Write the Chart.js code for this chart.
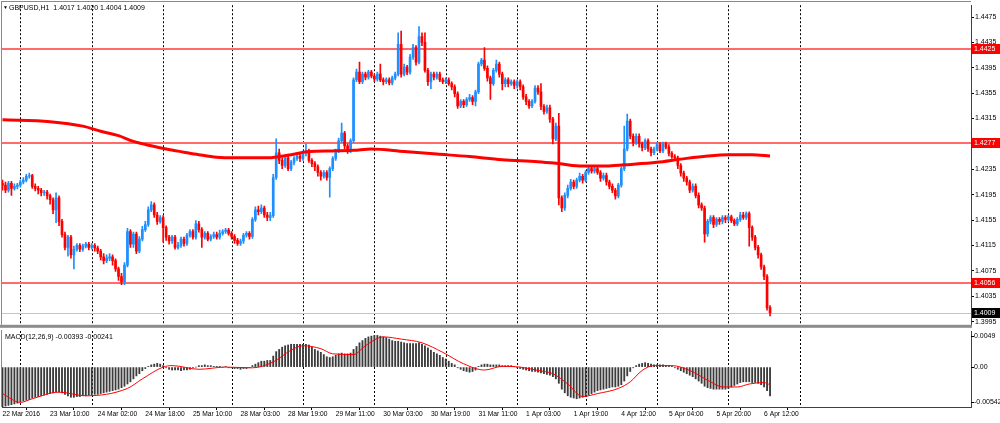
<!DOCTYPE html>
<html>
<head>
<meta charset="utf-8">
<script src="https://cdn.jsdelivr.net/npm/chart.js@4.4.0/dist/chart.umd.min.js"></script>
<style>
  html, body { margin: 0; padding: 0; background: #fff; }
  #wrap { position: relative; width: 1000px; height: 423px; overflow: hidden; }
  #price { position: absolute; left: 0; top: 0; }
  #macd { position: absolute; left: 0; top: 330px; }
</style>
</head>
<body>
<div id="wrap">
  <canvas id="price" width="1000" height="330"></canvas>
  <canvas id="macd" width="1000" height="93"></canvas>
</div>
<script>
// GBPUSD H1, one entry per bar
const opens = [
  1.4213,1.4210,1.4202,1.4213,1.4205,1.4208,1.4210,1.4215,1.4218,1.4224,
  1.4225,1.4208,1.4205,1.4202,1.4198,1.4199,1.4193,1.4187,1.4171,1.4190,
  1.4153,1.4132,1.4112,1.4128,1.4100,1.4109,1.4115,1.4109,1.4114,1.4117,
  1.4112,1.4115,1.4111,1.4106,1.4097,1.4091,1.4095,1.4097,1.4091,1.4078,
  1.4066,1.4058,1.4084,1.4137,1.4117,1.4133,1.4106,1.4125,1.4140,1.4148,
  1.4171,1.4179,1.4163,1.4153,1.4159,1.4143,1.4128,1.4122,1.4128,1.4112,
  1.4115,1.4125,1.4118,1.4131,1.4137,1.4128,1.4149,1.4140,1.4128,1.4134,
  1.4125,1.4129,1.4132,1.4128,1.4134,1.4137,1.4139,1.4134,1.4129,1.4123,
  1.4118,1.4122,1.4131,1.4134,1.4129,1.4156,1.4171,1.4168,1.4174,1.4163,
  1.4159,1.4162,1.4222,1.4261,1.4249,1.4241,1.4253,1.4236,1.4246,1.4252,
  1.4256,1.4252,1.4260,1.4264,1.4249,1.4244,1.4239,1.4230,1.4224,1.4230,
  1.4222,1.4236,1.4252,1.4264,1.4280,1.4292,1.4272,1.4264,1.4280,1.4376,
  1.4388,1.4373,1.4385,1.4380,1.4388,1.4382,1.4377,1.4385,1.4376,1.4373,
  1.4376,1.4371,1.4379,1.4385,1.4432,1.4385,1.4396,1.4388,1.4412,1.4427,
  1.4404,1.4444,1.4435,1.4391,1.4373,1.4385,1.4380,1.4385,1.4376,1.4373,
  1.4376,1.4370,1.4365,1.4354,1.4335,1.4342,1.4337,1.4345,1.4348,1.4342,
  1.4357,1.4401,1.4407,1.4394,1.4379,1.4370,1.4391,1.4401,1.4385,1.4370,
  1.4376,1.4370,1.4373,1.4367,1.4373,1.4365,1.4349,1.4342,1.4335,1.4342,
  1.4363,1.4357,1.4334,1.4326,1.4332,1.4314,1.4283,1.4303,1.4190,1.4174,
  1.4194,1.4205,1.4215,1.4208,1.4218,1.4224,1.4218,1.4230,1.4236,1.4232,
  1.4236,1.4230,1.4221,1.4225,1.4215,1.4208,1.4202,1.4193,1.4210,1.4236,
  1.4267,1.4311,1.4287,1.4277,1.4287,1.4275,1.4269,1.4280,1.4267,1.4261,
  1.4267,1.4274,1.4264,1.4275,1.4270,1.4260,1.4255,1.4253,1.4241,1.4229,
  1.4221,1.4215,1.4202,1.4208,1.4194,1.4179,1.4174,1.4133,1.4153,1.4159,
  1.4148,1.4156,1.4153,1.4159,1.4156,1.4160,1.4154,1.4149,1.4156,1.4163,
  1.4159,1.4165,1.4143,1.4128,1.4112,1.4100,1.4081,1.4066,1.4017
];
const highs = [
  1.4218,1.4215,1.4216,1.4216,1.4212,1.4213,1.4218,1.4222,1.4227,1.4229,
  1.4227,1.4212,1.4208,1.4205,1.4202,1.4202,1.4196,1.4190,1.4198,1.4193,
  1.4156,1.4136,1.4131,1.4131,1.4114,1.4118,1.4118,1.4117,1.4120,1.4120,
  1.4118,1.4118,1.4114,1.4109,1.4102,1.4100,1.4102,1.4100,1.4094,1.4081,
  1.4071,1.4088,1.4142,1.4140,1.4136,1.4136,1.4129,1.4145,1.4153,1.4176,
  1.4184,1.4182,1.4167,1.4162,1.4162,1.4146,1.4131,1.4131,1.4131,1.4120,
  1.4128,1.4128,1.4134,1.4140,1.4140,1.4154,1.4153,1.4143,1.4137,1.4137,
  1.4132,1.4136,1.4136,1.4139,1.4140,1.4142,1.4142,1.4137,1.4132,1.4126,
  1.4125,1.4134,1.4137,1.4137,1.4159,1.4176,1.4177,1.4179,1.4177,1.4167,
  1.4167,1.4227,1.4283,1.4267,1.4253,1.4256,1.4256,1.4249,1.4255,1.4261,
  1.4260,1.4264,1.4275,1.4267,1.4252,1.4247,1.4242,1.4233,1.4233,1.4233,
  1.4239,1.4255,1.4267,1.4284,1.4308,1.4295,1.4275,1.4283,1.4379,1.4393,
  1.4404,1.4388,1.4388,1.4391,1.4391,1.4385,1.4388,1.4401,1.4379,1.4379,
  1.4379,1.4382,1.4388,1.4450,1.4453,1.4401,1.4399,1.4416,1.4432,1.4430,
  1.4460,1.4450,1.4450,1.4394,1.4388,1.4388,1.4388,1.4388,1.4379,1.4379,
  1.4379,1.4373,1.4368,1.4357,1.4345,1.4345,1.4348,1.4353,1.4351,1.4360,
  1.4404,1.4410,1.4427,1.4398,1.4382,1.4394,1.4407,1.4404,1.4388,1.4379,
  1.4379,1.4376,1.4376,1.4376,1.4376,1.4368,1.4353,1.4345,1.4345,1.4367,
  1.4367,1.4370,1.4337,1.4336,1.4336,1.4317,1.4308,1.4323,1.4193,1.4198,
  1.4210,1.4219,1.4218,1.4221,1.4229,1.4227,1.4233,1.4241,1.4239,1.4239,
  1.4239,1.4233,1.4229,1.4229,1.4218,1.4212,1.4205,1.4213,1.4239,1.4303,
  1.4322,1.4314,1.4291,1.4291,1.4291,1.4278,1.4283,1.4283,1.4270,1.4270,
  1.4277,1.4277,1.4278,1.4278,1.4274,1.4263,1.4258,1.4256,1.4244,1.4232,
  1.4224,1.4218,1.4212,1.4212,1.4198,1.4182,1.4177,1.4156,1.4162,1.4162,
  1.4159,1.4159,1.4162,1.4162,1.4163,1.4163,1.4157,1.4159,1.4167,1.4167,
  1.4168,1.4168,1.4146,1.4131,1.4115,1.4103,1.4084,1.4069,1.4020
];
const lows = [
  1.4202,1.4198,1.4199,1.4194,1.4202,1.4204,1.4207,1.4212,1.4215,1.4221,
  1.4205,1.4201,1.4196,1.4193,1.4194,1.4188,1.4180,1.4165,1.4151,1.4146,
  1.4128,1.4108,1.4098,1.4095,1.4078,1.4106,1.4105,1.4106,1.4111,1.4108,
  1.4109,1.4106,1.4102,1.4092,1.4086,1.4088,1.4091,1.4084,1.4074,1.4060,
  1.4053,1.4053,1.4081,1.4112,1.4112,1.4102,1.4103,1.4122,1.4137,1.4145,
  1.4168,1.4159,1.4148,1.4150,1.4120,1.4123,1.4117,1.4118,1.4109,1.4109,
  1.4112,1.4114,1.4115,1.4128,1.4125,1.4125,1.4136,1.4112,1.4125,1.4122,
  1.4122,1.4126,1.4125,1.4125,1.4131,1.4134,1.4131,1.4125,1.4118,1.4115,
  1.4115,1.4118,1.4128,1.4125,1.4126,1.4153,1.4163,1.4165,1.4159,1.4154,
  1.4154,1.4159,1.4219,1.4244,1.4236,1.4238,1.4233,1.4233,1.4242,1.4249,
  1.4247,1.4249,1.4256,1.4246,1.4239,1.4233,1.4224,1.4218,1.4221,1.4218,
  1.4191,1.4233,1.4249,1.4261,1.4277,1.4267,1.4260,1.4261,1.4277,1.4373,
  1.4370,1.4370,1.4376,1.4377,1.4379,1.4373,1.4374,1.4373,1.4368,1.4370,
  1.4368,1.4368,1.4376,1.4382,1.4380,1.4382,1.4384,1.4385,1.4408,1.4399,
  1.4401,1.4430,1.4388,1.4367,1.4362,1.4376,1.4377,1.4373,1.4370,1.4370,
  1.4367,1.4360,1.4349,1.4331,1.4332,1.4332,1.4334,1.4342,1.4337,1.4335,
  1.4354,1.4398,1.4391,1.4374,1.4345,1.4367,1.4388,1.4380,1.4360,1.4365,
  1.4365,1.4367,1.4362,1.4363,1.4360,1.4345,1.4337,1.4331,1.4332,1.4339,
  1.4353,1.4329,1.4322,1.4323,1.4309,1.4275,1.4280,1.4179,1.4168,1.4170,
  1.4190,1.4202,1.4204,1.4205,1.4215,1.4213,1.4215,1.4227,1.4229,1.4229,
  1.4227,1.4216,1.4218,1.4210,1.4204,1.4198,1.4188,1.4190,1.4207,1.4233,
  1.4264,1.4283,1.4272,1.4274,1.4270,1.4264,1.4266,1.4263,1.4256,1.4258,
  1.4264,1.4261,1.4261,1.4267,1.4256,1.4252,1.4249,1.4236,1.4224,1.4216,
  1.4210,1.4198,1.4199,1.4190,1.4174,1.4170,1.4120,1.4129,1.4149,1.4143,
  1.4145,1.4148,1.4149,1.4151,1.4153,1.4151,1.4146,1.4146,1.4153,1.4156,
  1.4156,1.4114,1.4123,1.4108,1.4095,1.4077,1.4061,1.4013,1.4004
];
const closes = [
  1.4210,1.4202,1.4213,1.4205,1.4208,1.4210,1.4215,1.4218,1.4224,1.4225,
  1.4208,1.4205,1.4202,1.4198,1.4199,1.4193,1.4187,1.4171,1.4190,1.4153,
  1.4132,1.4112,1.4128,1.4100,1.4109,1.4115,1.4109,1.4114,1.4117,1.4112,
  1.4115,1.4111,1.4106,1.4097,1.4091,1.4095,1.4097,1.4091,1.4078,1.4066,
  1.4058,1.4084,1.4137,1.4117,1.4133,1.4106,1.4125,1.4140,1.4148,1.4171,
  1.4179,1.4163,1.4153,1.4159,1.4143,1.4128,1.4122,1.4128,1.4112,1.4115,
  1.4125,1.4118,1.4131,1.4137,1.4128,1.4149,1.4140,1.4128,1.4134,1.4125,
  1.4129,1.4132,1.4128,1.4134,1.4137,1.4139,1.4134,1.4129,1.4123,1.4118,
  1.4122,1.4131,1.4134,1.4129,1.4156,1.4171,1.4168,1.4174,1.4163,1.4159,
  1.4162,1.4222,1.4261,1.4249,1.4241,1.4253,1.4236,1.4246,1.4252,1.4256,
  1.4252,1.4260,1.4264,1.4249,1.4244,1.4239,1.4230,1.4224,1.4230,1.4222,
  1.4236,1.4252,1.4264,1.4280,1.4292,1.4272,1.4264,1.4280,1.4376,1.4388,
  1.4373,1.4385,1.4380,1.4388,1.4382,1.4377,1.4385,1.4376,1.4373,1.4376,
  1.4371,1.4379,1.4385,1.4432,1.4385,1.4396,1.4388,1.4412,1.4427,1.4404,
  1.4444,1.4435,1.4391,1.4373,1.4385,1.4380,1.4385,1.4376,1.4373,1.4376,
  1.4370,1.4365,1.4354,1.4335,1.4342,1.4337,1.4345,1.4348,1.4342,1.4357,
  1.4401,1.4407,1.4394,1.4379,1.4370,1.4391,1.4401,1.4385,1.4370,1.4376,
  1.4370,1.4373,1.4367,1.4373,1.4365,1.4349,1.4342,1.4335,1.4342,1.4363,
  1.4357,1.4334,1.4326,1.4332,1.4314,1.4283,1.4303,1.4190,1.4174,1.4194,
  1.4205,1.4215,1.4208,1.4218,1.4224,1.4218,1.4230,1.4236,1.4232,1.4236,
  1.4230,1.4221,1.4225,1.4215,1.4208,1.4202,1.4193,1.4210,1.4236,1.4267,
  1.4311,1.4287,1.4277,1.4287,1.4275,1.4269,1.4280,1.4267,1.4261,1.4267,
  1.4274,1.4264,1.4275,1.4270,1.4260,1.4255,1.4253,1.4241,1.4229,1.4221,
  1.4215,1.4202,1.4208,1.4194,1.4179,1.4174,1.4133,1.4153,1.4159,1.4148,
  1.4156,1.4153,1.4159,1.4156,1.4160,1.4154,1.4149,1.4156,1.4163,1.4159,
  1.4165,1.4143,1.4128,1.4112,1.4100,1.4081,1.4066,1.4017,1.4009
];

// moving average, read at a few bars
const maBars = [0,16,27,33,39,44,50,55,61,66,72,78,89,93,97,103,111,118,124,135,146,157,168,180,187,195,203,209,220,228,237,244,252,258];
const maValues = [1.4313,1.4310,1.4303,1.4295,1.4288,1.4279,1.4272,1.4267,1.4262,1.4258,1.4254,1.4253,1.4253,1.4255,1.4258,1.4263,1.4264,1.4265,1.4267,1.4263,1.4259,1.4255,1.4250,1.4247,1.4244,1.4240,1.4240,1.4242,1.4246,1.4251,1.4256,1.4258,1.4258,1.4256];

// MACD(12,26,9) main histogram, one per bar
const macdHist = [
  -0.0054,-0.0053,-0.0052,-0.0051,-0.0050,-0.0049,-0.0047,-0.0046,-0.0045,-0.0044,
  -0.0042,-0.0041,-0.0040,-0.0039,-0.0038,-0.0037,-0.0036,-0.0035,-0.0034,-0.0034,
  -0.0035,-0.0037,-0.0039,-0.0041,-0.0041,-0.0040,-0.0040,-0.0039,-0.0039,-0.0038,
  -0.0038,-0.0037,-0.0037,-0.0036,-0.0035,-0.0034,-0.0033,-0.0032,-0.0031,-0.0030,
  -0.0028,-0.0026,-0.0023,-0.0020,-0.0016,-0.0012,-0.0009,-0.0005,-0.0002,0.0001,
  0.0003,0.0004,0.0005,0.0004,0.0002,-0.0001,-0.0003,-0.0004,-0.0004,-0.0004,
  -0.0005,-0.0004,-0.0004,-0.0003,-0.0001,0.0000,0.0002,0.0002,0.0003,0.0002,
  0.0002,0.0001,0.0001,0.0001,0.0000,0.0001,-0.0001,-0.0001,-0.0002,-0.0002,
  -0.0003,-0.0002,-0.0002,-0.0001,0.0002,0.0004,0.0006,0.0008,0.0008,0.0009,
  0.0009,0.0015,0.0021,0.0024,0.0027,0.0029,0.0030,0.0031,0.0031,0.0031,
  0.0031,0.0031,0.0031,0.0030,0.0027,0.0024,0.0022,0.0020,0.0017,0.0014,
  0.0013,0.0014,0.0016,0.0018,0.0019,0.0018,0.0018,0.0019,0.0024,0.0028,
  0.0033,0.0036,0.0039,0.0041,0.0042,0.0043,0.0043,0.0042,0.0041,0.0040,
  0.0038,0.0036,0.0035,0.0035,0.0034,0.0033,0.0032,0.0032,0.0032,0.0032,
  0.0033,0.0031,0.0029,0.0026,0.0023,0.0020,0.0018,0.0016,0.0013,0.0011,
  0.0008,0.0005,0.0003,-0.0001,-0.0003,-0.0005,-0.0006,-0.0007,-0.0006,-0.0004,
  0.0001,0.0003,0.0004,0.0004,0.0003,0.0003,0.0003,0.0003,0.0002,0.0002,
  0.0002,0.0002,0.0001,-0.0001,-0.0002,-0.0003,-0.0004,-0.0005,-0.0006,-0.0006,
  -0.0007,-0.0008,-0.0009,-0.0010,-0.0011,-0.0013,-0.0016,-0.0022,-0.0030,-0.0035,
  -0.0039,-0.0041,-0.0042,-0.0043,-0.0042,-0.0041,-0.0040,-0.0038,-0.0036,-0.0034,
  -0.0032,-0.0031,-0.0030,-0.0029,-0.0028,-0.0027,-0.0027,-0.0026,-0.0024,-0.0019,
  -0.0012,-0.0006,-0.0001,0.0002,0.0004,0.0005,0.0006,0.0005,0.0004,0.0003,
  0.0003,0.0003,0.0003,0.0002,0.0002,0.0001,-0.0001,-0.0003,-0.0005,-0.0007,
  -0.0009,-0.0011,-0.0013,-0.0016,-0.0019,-0.0022,-0.0026,-0.0028,-0.0029,-0.0030,
  -0.0030,-0.0030,-0.0030,-0.0030,-0.0029,-0.0027,-0.0025,-0.0023,-0.0021,-0.0020,
  -0.0020,-0.0020,-0.0021,-0.0021,-0.0022,-0.0024,-0.0027,-0.0032,-0.00393
];
// signal line, read at a few bars
const signalBars = [0,6,10,19,28,42,47,54,57,66,75,84,91,97,101,107,111,118,122,128,134,141,148,155,162,168,174,180,185,190,195,200,207,211,215,219,225,231,238,242,247,251,256,258];
const signalValues = [-0.0036,-0.0048,-0.0043,-0.0034,-0.0039,-0.0029,-0.0016,0.0000,0.0002,-0.0003,0.0000,-0.0001,0.0007,0.0023,0.0029,0.0025,0.0018,0.0017,0.0029,0.0041,0.0038,0.0033,0.0020,0.00045,-0.0004,0.0001,0.0000,-0.00046,-0.0009,-0.0023,-0.0040,-0.0036,-0.0029,-0.0020,-0.00046,0.0002,0.0002,-0.00046,-0.0020,-0.0027,-0.0027,-0.0023,-0.0021,-0.00241];

const priceTicks = [1.3995,1.4035,1.4075,1.4115,1.4155,1.4195,1.4235,1.4275,1.4315,1.4355,1.4395,1.4435,1.4475];
const macdTicks = [0.0049, 0, -0.00542];
const macdTickText = ['0.0049', '0.00', '-0.00542'];
const timeLabels = ['22 Mar 2016','23 Mar 10:00','24 Mar 02:00','24 Mar 18:00','25 Mar 10:00','28 Mar 03:00','28 Mar 19:00','29 Mar 11:00','30 Mar 03:00','30 Mar 19:00','31 Mar 11:00','1 Apr 03:00','1 Apr 19:00','4 Apr 12:00','5 Apr 04:00','5 Apr 20:00','6 Apr 12:00'];
const labelBars = [0,16,32,48,64,80,96,112,128,144,160,176,192,208,224,240,256];
const daySeparators = [6,30,54,77,101,125,149,173,196,220,244,268];
const levels = [1.4425, 1.4277, 1.4056];
const bid = 1.4009;

const BULL = '#1e8fff', BEAR = '#ff0000';
const FONT = "'Liberation Sans', Arial, sans-serif";
const X_MIN = -0.17, X_MAX = 325.55;
const last = closes.length - 1;

const bodies = closes.map((c, i) => ({ x: i, y: [opens[i], c] }));
const wicks = closes.map((c, i) => ({ x: i, y: [lows[i], highs[i]] }));
const maPoints = maBars.map((b, k) => ({ x: b, y: maValues[k] }));
const histPoints = macdHist.map((v, i) => ({ x: i, y: v }));
const signalPoints = signalBars.map((b, k) => ({ x: b, y: signalValues[k] }));
const candleColor = ctx => closes[ctx.dataIndex] >= opens[ctx.dataIndex] ? BULL : BEAR;

function dayLines(chart) {
  const { ctx, chartArea: a, scales: { x } } = chart;
  ctx.save();
  ctx.strokeStyle = '#000';
  ctx.lineWidth = 1;
  ctx.setLineDash([2, 2]);
  daySeparators.forEach(d => {
    const px = Math.round(x.getPixelForValue(d)) + 0.5;
    ctx.beginPath(); ctx.moveTo(px, a.top); ctx.lineTo(px, a.bottom); ctx.stroke();
  });
  ctx.restore();
}

const pricePanel = {
  id: 'pricePanel',
  beforeDatasetsDraw(chart) {
    dayLines(chart);
    const { ctx, chartArea: a, scales: { y } } = chart;
    ctx.save();
    ctx.fillStyle = '#c4c4c4';
    ctx.fillRect(a.left, Math.round(y.getPixelForValue(bid)), a.right - a.left, 1);
    ctx.fillStyle = '#ff6a6a';
    levels.forEach(v => {
      const py = Math.round(y.getPixelForValue(v) - 1);
      ctx.fillRect(a.left, py, a.right - a.left, 2);
    });
    ctx.restore();
  },
  afterDraw(chart) {
    const { ctx, chartArea: a, scales: { y } } = chart;
    ctx.save();
    // frame and panel separator
    ctx.fillStyle = '#8a8a8a';
    ctx.fillRect(1, 1, a.right - 1, 1);
    ctx.fillRect(1, 1, 1, a.bottom - 1);
    ctx.fillStyle = '#8c8c8c';
    ctx.fillRect(0, a.bottom, a.right + 1, 3);
    // level tags on the price axis
    ctx.font = '7px ' + FONT;
    ctx.textBaseline = 'middle';
    const tag = (v, bg) => {
      const py = Math.round(y.getPixelForValue(v));
      ctx.fillStyle = bg;
      ctx.fillRect(a.right + 1, py - 5, 28, 10);
      ctx.fillStyle = '#fff';
      ctx.fillText(v.toFixed(4), a.right + 3, py + 0.5);
    };
    levels.forEach(v => tag(v, '#ff0000'));
    tag(bid, '#000');
    // symbol header
    ctx.fillStyle = '#000';
    ctx.font = '5px ' + FONT;
    ctx.fillText('\u25BC', 3, 8);
    ctx.font = '7px ' + FONT;
    const head = 'GBPUSD,H1  ' + [opens[last], highs[last], lows[last], closes[last]].map(v => v.toFixed(4)).join(' ');
    ctx.fillText(head, 9, 8);
    ctx.restore();
  }
};

const macdPanel = {
  id: 'macdPanel',
  beforeDatasetsDraw(chart) { dayLines(chart); },
  afterDraw(chart) {
    const { ctx, chartArea: a, scales: { y } } = chart;
    ctx.save();
    ctx.fillStyle = '#8a8a8a';
    ctx.fillRect(1, 0, 1, a.bottom);
    ctx.fillStyle = '#000';
    ctx.font = '7px ' + FONT;
    ctx.textBaseline = 'middle';
    ctx.fillText('MACD(12,26,9) ' + macdHist[last].toFixed(5) + ' ' + signalValues[signalValues.length - 1].toFixed(5), 5, 7.5);
    const nudge = [5, 0, -5];
    macdTicks.forEach((v, k) => {
      const py = Math.round(y.getPixelForValue(v) + nudge[k]);
      ctx.fillRect(a.right, py, 3, 1);
      ctx.fillText(macdTickText[k], a.right + 3, py + 0.5);
    });
    ctx.restore();
  }
};

new Chart(document.getElementById('price'), {
  type: 'bar',
  data: {
    datasets: [
      { type: 'line', data: maPoints, borderColor: '#ff0000', borderWidth: 3, pointRadius: 0, cubicInterpolationMode: 'monotone', order: 0 },
      { data: bodies, backgroundColor: candleColor, barThickness: 2, grouped: false, order: 1 },
      { data: wicks, backgroundColor: candleColor, barThickness: 1, grouped: false, order: 2 }
    ]
  },
  options: {
    responsive: false,
    animation: false,
    events: [],
    layout: { padding: { left: 2, top: 2, right: 0, bottom: 3 } },
    plugins: { legend: { display: false }, tooltip: { enabled: false } },
    scales: {
      x: { type: 'linear', min: X_MIN, max: X_MAX, offset: false, display: false },
      y: {
        position: 'right', min: 1.39899, max: 1.44936,
        afterFit: s => { s.width = 29; },
        afterBuildTicks: s => { s.ticks = priceTicks.map(v => ({ value: v })); },
        ticks: { font: { family: FONT, size: 7 }, color: '#000', padding: 1, callback: v => v.toFixed(4) },
        grid: { drawOnChartArea: false, drawTicks: true, tickLength: 3, color: '#000' },
        border: { display: true, color: '#404040' }
      }
    }
  },
  plugins: [pricePanel]
});

new Chart(document.getElementById('macd'), {
  type: 'bar',
  data: {
    datasets: [
      { type: 'line', data: signalPoints, borderColor: '#ff0000', borderWidth: 1, pointRadius: 0, cubicInterpolationMode: 'monotone', order: 0 },
      { data: histPoints, backgroundColor: '#3c3c3c', barThickness: 1.2, grouped: false, order: 1 }
    ]
  },
  options: {
    responsive: false,
    animation: false,
    events: [],
    layout: { padding: { left: 2, top: 1, right: 0, bottom: 0 } },
    plugins: { legend: { display: false }, tooltip: { enabled: false } },
    scales: {
      x: {
        type: 'linear', min: X_MIN, max: X_MAX, offset: false,
        afterFit: s => { s.height = 16; },
        afterBuildTicks: s => { s.ticks = labelBars.map(v => ({ value: v })); },
        ticks: { autoSkip: false, maxRotation: 0, align: 'start', padding: 0, color: '#000',
                 font: { family: FONT, size: 6.7 }, callback: (v, i) => timeLabels[i] },
        grid: { drawOnChartArea: false, drawTicks: true, tickLength: 3, color: '#000' },
        border: { display: true, color: '#404040' }
      },
      y: {
        position: 'right', min: -0.00542, max: 0.0049,
        afterFit: s => { s.width = 29; },
        ticks: { display: false },
        grid: { drawOnChartArea: false, drawTicks: false },
        border: { display: true, color: '#404040' }
      }
    }
  },
  plugins: [macdPanel]
});
</script>
</body>
</html>
